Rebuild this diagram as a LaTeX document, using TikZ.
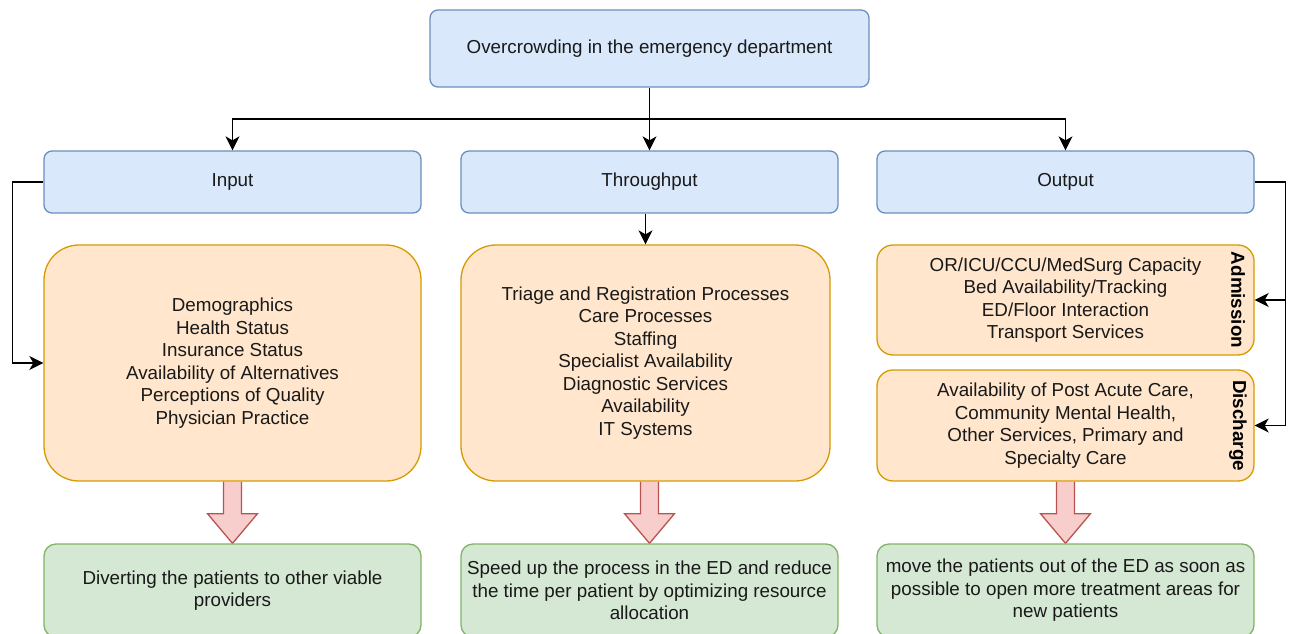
\documentclass[tikz,border=0pt]{standalone}
\usepackage{fontspec}
\setmainfont{Liberation Sans}
\usetikzlibrary{arrows.meta,calc,backgrounds}

\definecolor{bluefill}{HTML}{DAE8FC}
\definecolor{bluestroke}{HTML}{6C8EBF}
\definecolor{orangefill}{HTML}{FFE6CC}
\definecolor{orangestroke}{HTML}{D79B00}
\definecolor{greenfill}{HTML}{D5E8D4}
\definecolor{greenstroke}{HTML}{82B366}
\definecolor{redfill}{HTML}{F8CECC}
\definecolor{redstroke}{HTML}{B85450}

\tikzset{
  box/.style={draw, line width=1.3pt, align=center, inner sep=0pt,
    font=\fontsize{18.8}{22.5}\selectfont, text=black!90},
  bluebox/.style={box, fill=bluefill, draw=bluestroke, rounded corners=8pt,
    minimum width=377pt, minimum height=62pt},
  bigbody/.style={box, fill=orangefill, draw=orangestroke, rounded corners=35pt,
    minimum height=236pt},
  subbody/.style={box, fill=orangefill, draw=orangestroke, rounded corners=16pt,
    minimum width=377pt},
  goalbox/.style={box, fill=greenfill, draw=greenstroke, rounded corners=12pt,
    minimum width=377pt, minimum height=93pt},
  sidelabel/.style={rotate=-90, font=\bfseries\fontsize{18.8}{22.5}\selectfont, inner sep=0pt},
  conn/.style={line width=1.4pt, -{Stealth[length=14pt,width=14pt,inset=4pt]}},
  plainconn/.style={line width=1.4pt},
  fatarrow/.style={fill=redfill, draw=redstroke, line width=1.3pt, line join=miter}
}

% hollow block arrow from the bottom of a box down to the top of another
\newcommand{\blockarrow}[2]{%
  \draw[fatarrow]
    ($(#2.north |- #1.south)+(-9,0)$) -- ($(#2.north |- #1.south)+(-9,32)$)
    -- ($(#2.north |- #1.south)+(-25,32)$) -- (#2.north)
    -- ($(#2.north |- #1.south)+(25,32)$) -- ($(#2.north |- #1.south)+(9,32)$)
    -- ($(#2.north |- #1.south)+(9,0)$);}

\begin{document}
\begin{tikzpicture}[x=1pt,y=-1pt]
\useasboundingbox (0,0) rectangle (1291,634);

% problem statement
\node[bluebox, minimum width=439pt, minimum height=77pt] (top) at (649.5,48.5)
  {Overcrowding in the emergency department};

% the three stages
\node[bluebox] (input)  at (232.5,182)  {Input};
\node[bluebox] (thr)    at (649.5,182)  {Throughput};
\node[bluebox] (output) at (1065.5,182) {Output};

% factors of each stage
\node[bigbody, minimum width=377pt] (inbody) at (232.5,363)
  {Demographics\\Health Status\\Insurance Status\\Availability of Alternatives\\Perceptions of Quality\\Physician Practice};
\node[bigbody, minimum width=369pt] (thrbody) at (645.5,363)
  {Triage and Registration Processes\\Care Processes\\Staffing\\Specialist Availability\\Diagnostic Services\\Availability\\IT Systems};
\node[subbody, minimum height=110pt] (adm) at (1065.5,300)
  {OR/ICU/CCU/MedSurg Capacity\\Bed Availability/Tracking\\ED/Floor Interaction\\Transport Services};
\node[subbody, minimum height=111pt] (dis) at (1065.5,425.5)
  {Availability of Post Acute Care,\\Community Mental Health,\\Other Services, Primary and\\Specialty Care};
\node[sidelabel] (admlabel) at (1238,300) {Admission};
\node[sidelabel] (dislabel) at (1238,425.5) {Discharge};

% strategies
\node[goalbox] (ingoal)  at (232.5,590.5)
  {Diverting the patients to other viable\\providers};
\node[goalbox] (thrgoal) at (649.5,590.5)
  {Speed up the process in the ED and reduce\\the time per patient by optimizing resource\\allocation};
\node[goalbox] (outgoal) at (1065.5,590.5)
  {move the patients out of the ED as soon as\\possible to open more treatment areas for\\new patients};

% connectors
\coordinate (split) at (649.5,119);
\draw[plainconn] (top.south) -- (split);
\draw[conn] (split) -| (input.north);
\draw[conn] (split) -- (thr.north);
\draw[conn] (split) -| (output.north);
\draw[conn] (thrbody.north |- thr.south) -- (thrbody.north);
\draw[conn] (input.west) -- ++(-31,0) |- (inbody.west);
\draw[conn] (output.east) -- ++(31,0) |- (adm.east);
\draw[conn] (output.east) -- ++(31,0) |- (dis.east);

% block arrows towards the strategies, tucked under the box outlines
\begin{scope}[on background layer]
\fill[white] (0,0) rectangle (1291,634);
\blockarrow{inbody}{ingoal}
\blockarrow{thrbody}{thrgoal}
\blockarrow{dis}{outgoal}
\end{scope}
\end{tikzpicture}
\end{document}
